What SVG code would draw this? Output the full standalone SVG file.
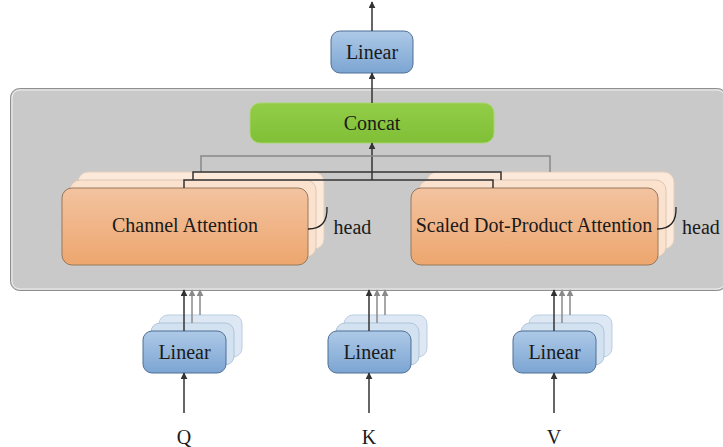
<svg xmlns="http://www.w3.org/2000/svg" width="723" height="447" viewBox="0 0 723 447">
<style>
text{font-family:"Times New Roman","Liberation Serif",Tinos,"DejaVu Serif",serif;fill:#1a1a1a;text-anchor:middle;font-size:20px}
.blue{fill:url(#gBlue);stroke:#4f6f95;stroke-width:1}
.blueB1{fill:#d3e2f1;stroke:#aec3d8;stroke-width:1}
.blueB2{fill:#dde8f4;stroke:#b9cde0;stroke-width:1}
.org{fill:url(#gOrg);stroke:#98785c;stroke-width:1}
.orgB1{fill:#fbe2ce;stroke:#dcc6b3;stroke-width:1}
.orgB2{fill:#fde9da;stroke:#e2cfbf;stroke-width:1}
.ln{fill:none;stroke:#333;stroke-width:1.5}
.lnG{fill:none;stroke:#888;stroke-width:1.5}
.arr{fill:none;stroke:#333;stroke-width:1.5;marker-end:url(#ah)}
.arrG{fill:none;stroke:#8a8a8a;stroke-width:1.5;marker-end:url(#ahG)}
</style>
<defs>
<linearGradient id="gBlue" x1="0" y1="0" x2="0" y2="1"><stop offset="0" stop-color="#adc9e7"/><stop offset="1" stop-color="#7ca5d2"/></linearGradient>
<linearGradient id="gOrg" x1="0" y1="0" x2="0" y2="1"><stop offset="0" stop-color="#f3c3a0"/><stop offset="1" stop-color="#eda66e"/></linearGradient>
<linearGradient id="gGreen" x1="0" y1="0" x2="0" y2="1"><stop offset="0" stop-color="#93cd48"/><stop offset="1" stop-color="#80bf37"/></linearGradient>
<marker id="ah" viewBox="0 0 10 10" refX="9" refY="5" markerWidth="7" markerHeight="7" markerUnits="userSpaceOnUse" orient="auto"><path d="M0,0 L10,5 L0,10 z" fill="#333"/></marker>
<marker id="ahG" viewBox="0 0 10 10" refX="9" refY="5" markerWidth="7" markerHeight="7" markerUnits="userSpaceOnUse" orient="auto"><path d="M0,0 L10,5 L0,10 z" fill="#8a8a8a"/></marker>
</defs>

<g id="container">
<rect x="10.5" y="88.5" width="716" height="202" rx="9" fill="#c9c9c9" stroke="#8e8e8e" stroke-width="1"/>
<rect x="12" y="90" width="713" height="199" rx="8" fill="none" stroke="#efefef" stroke-width="1"/>
</g>

<g id="linear-out">
<rect class="blue" x="331" y="31" width="82" height="42" rx="9"/>
<text x="372" y="59">Linear</text>
</g>

<g id="concat">
<rect x="250" y="103" width="244" height="40" rx="10" fill="url(#gGreen)" stroke="#a9d66f" stroke-width="1"/>
<text x="372" y="130">Concat</text>
</g>

<g id="channel-attention">
<rect class="orgB2" x="78" y="172" width="246" height="77" rx="10"/>
<rect class="orgB1" x="70" y="180" width="246" height="77" rx="10"/>
<rect class="org" x="62" y="188" width="246" height="77" rx="10"/>
<text x="185" y="232">Channel Attention</text>
<path d="M308,229 Q328,229 327,207" fill="none" stroke="#222" stroke-width="1.3"/>
<text x="352.5" y="234">head</text>
</g>

<g id="sdp-attention">
<rect class="orgB2" x="427" y="172" width="247" height="77" rx="10"/>
<rect class="orgB1" x="419" y="180" width="247" height="77" rx="10"/>
<rect class="org" x="411" y="188" width="247" height="77" rx="10"/>
<text x="534" y="232">Scaled Dot-Product Attention</text>
<path d="M657,229 Q677,229 676,207" fill="none" stroke="#222" stroke-width="1.3"/>
<text x="701" y="234">head</text>
</g>

<g id="linear-q">
<rect class="blueB2" x="159" y="315" width="83" height="42" rx="9"/>
<rect class="blueB1" x="151" y="323" width="83" height="42" rx="9"/>
<rect class="blue" x="143" y="331" width="83" height="42" rx="9"/>
<text x="184.5" y="359">Linear</text>
</g>
<g id="linear-k">
<rect class="blueB2" x="344" y="315" width="83" height="42" rx="9"/>
<rect class="blueB1" x="336" y="323" width="83" height="42" rx="9"/>
<rect class="blue" x="328" y="331" width="83" height="42" rx="9"/>
<text x="369.5" y="359">Linear</text>
</g>
<g id="linear-v">
<rect class="blueB2" x="529" y="315" width="83" height="42" rx="9"/>
<rect class="blueB1" x="521" y="323" width="83" height="42" rx="9"/>
<rect class="blue" x="513" y="331" width="83" height="42" rx="9"/>
<text x="554.5" y="359">Linear</text>
</g>

<g id="input-q"><text x="184" y="444">Q</text></g>
<g id="input-k"><text x="369" y="444">K</text></g>
<g id="input-v"><text x="554" y="444">V</text></g>

<g id="connectors">
<line class="arr" x1="372" y1="31" x2="372" y2="2"/>
<line class="arr" x1="372" y1="103" x2="372" y2="73"/>
<line class="arr" x1="372" y1="180" x2="372" y2="143"/>
<path class="lnG" d="M201,172 V156 H550 V172"/>
<path class="ln" d="M193,180 V172 H501 V180" stroke="#444"/>
<path class="ln" d="M184,188 V180 H493 V188"/>

<line class="arr" x1="184" y1="413" x2="184" y2="373"/>
<line class="arr" x1="369" y1="413" x2="369" y2="373"/>
<line class="arr" x1="554" y1="413" x2="554" y2="373"/>

<line class="arrG" x1="200" y1="315" x2="200" y2="290"/>
<line class="arrG" x1="192" y1="323" x2="192" y2="290"/>
<line class="arr" x1="184" y1="331" x2="184" y2="290"/>
<line class="arrG" x1="385" y1="315" x2="385" y2="290"/>
<line class="arrG" x1="377" y1="323" x2="377" y2="290"/>
<line class="arr" x1="369" y1="331" x2="369" y2="290"/>
<line class="arrG" x1="570" y1="315" x2="570" y2="290"/>
<line class="arrG" x1="562" y1="323" x2="562" y2="290"/>
<line class="arr" x1="554" y1="331" x2="554" y2="290"/>
</g>
</svg>
